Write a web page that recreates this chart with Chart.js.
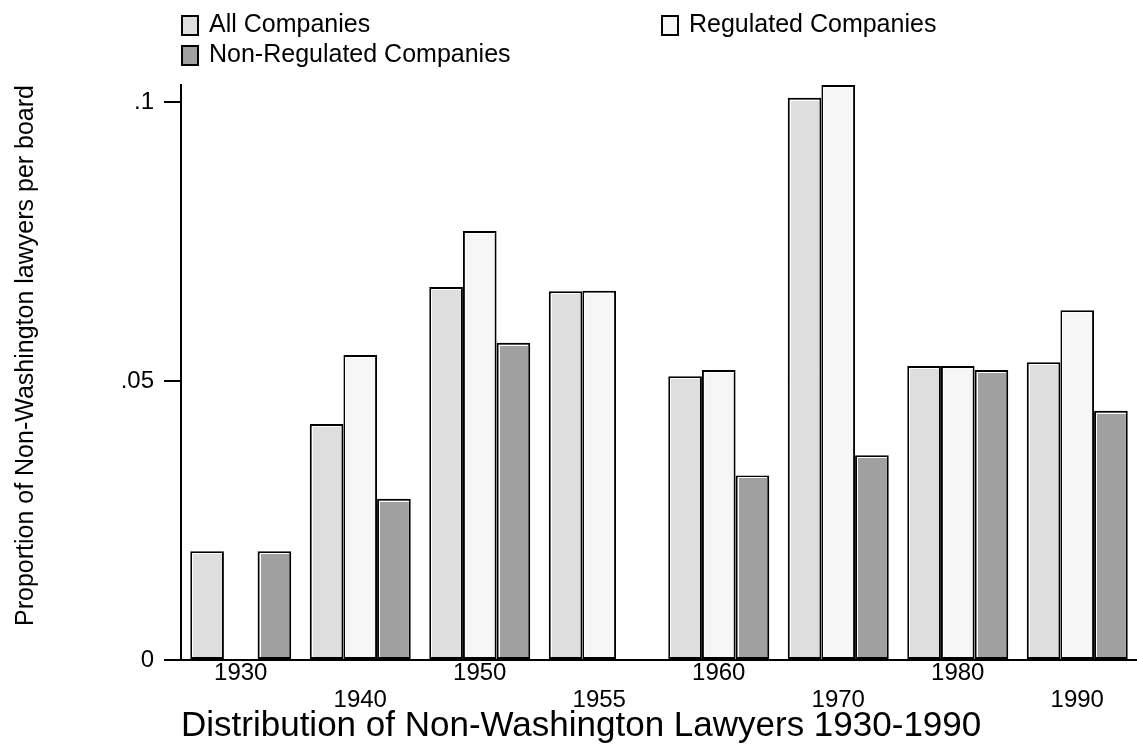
<!DOCTYPE html>
<html>
<head>
<meta charset="utf-8">
<script src="https://cdn.jsdelivr.net/npm/chart.js@4.4.1/dist/chart.umd.min.js"></script>
<style>
  html, body { margin: 0; padding: 0; background: #fff; }
  #wrap { position: relative; width: 1137px; height: 754px; }
</style>
</head>
<body>
<div id="wrap"><canvas id="chart"></canvas></div>
<script>
const years = ['1930', '1940', '1950', '1955', '1960', '1970', '1980', '1990'];
const allCompanies = [0.0195, 0.0423, 0.0669, 0.0661, 0.0509, 0.1008, 0.0527, 0.0534];
const regulated = [null, 0.0547, 0.0769, 0.0662, 0.0520, 0.1031, 0.0527, 0.0627];
const nonRegulated = [0.0195, 0.0289, 0.0569, null, 0.0331, 0.0367, 0.0520, 0.0447];
const yTicks = [0, 0.05, 0.1];

const FONT = "'Liberation Sans', Arial, sans-serif";

// stata style legend: two columns, drawn from the datasets
const legendSlots = [
  { x: 181, y: 25 },
  { x: 661, y: 25 },
  { x: 181, y: 55 }
];

const stataLegend = {
  id: 'stataLegend',
  afterDraw(chart) {
    const ctx = chart.ctx;
    ctx.save();
    ctx.font = '25px ' + FONT;
    ctx.textBaseline = 'middle';
    ctx.textAlign = 'left';
    chart.data.datasets.forEach((ds, i) => {
      const s = legendSlots[i];
      ctx.fillStyle = ds.backgroundColor;
      ctx.fillRect(s.x, s.y - 10, 18, 21);
      ctx.strokeStyle = '#000';
      ctx.lineWidth = 2;
      ctx.strokeRect(s.x + 1, s.y - 9, 16, 19);
      ctx.fillStyle = '#000';
      ctx.fillText(ds.label, s.x + 28, s.y);
    });
    ctx.restore();
  }
};

// thin white highlight inside the top/left edge of each bar
const barHighlight = {
  id: 'barHighlight',
  afterDatasetsDraw(chart) {
    const ctx = chart.ctx;
    ctx.save();
    ctx.strokeStyle = '#fff';
    ctx.lineWidth = 1;
    chart.data.datasets.forEach((ds, i) => {
      chart.getDatasetMeta(i).data.forEach((bar, j) => {
        if (ds.data[j] == null) return;
        const { x, y, base, width } = bar.getProps(['x', 'y', 'base', 'width'], true);
        const l = Math.round(x - width / 2) + 2.5;
        const r = Math.round(x + width / 2) - 2;
        const t = Math.round(y) + 2.5;
        ctx.beginPath();
        ctx.moveTo(l, base - 2);
        ctx.lineTo(l, t);
        ctx.lineTo(r, t);
        ctx.stroke();
      });
    });
    ctx.restore();
  }
};

const ctx = document.getElementById('chart').getContext('2d');
new Chart(ctx, {
  type: 'bar',
  data: {
    labels: years,
    datasets: [
      { label: 'All Companies', data: allCompanies, backgroundColor: '#dedede' },
      { label: 'Regulated Companies', data: regulated, backgroundColor: '#f6f6f6' },
      { label: 'Non-Regulated Companies', data: nonRegulated, backgroundColor: '#a0a0a0' }
    ]
  },
  options: {
    responsive: true,
    maintainAspectRatio: false,
    animation: false,
    layout: { padding: { top: 85, left: 0, right: 0, bottom: 0 } },
    datasets: {
      bar: {
        borderColor: '#000',
        borderWidth: 2,
        borderSkipped: false,
        barPercentage: 1,
        categoryPercentage: 0.845
      }
    },
    plugins: {
      legend: { display: false },
      tooltip: { enabled: false }
    },
    scales: {
      x: {
        grid: { display: false, drawTicks: false },
        border: { display: true, color: '#000', width: 2 },
        ticks: {
          autoSkip: false,
          maxRotation: 0,
          padding: 0,
          color: '#000',
          font: { family: FONT, size: 24, lineHeight: 1.11 },
          callback: function (value, index) {
            const lbl = this.getLabelForValue(value);
            return index % 2 === 0 ? [lbl] : ['', lbl];
          }
        },
        title: {
          display: true,
          text: 'Distribution of Non-Washington Lawyers 1930-1990',
          align: 'start',
          color: '#000',
          font: { family: FONT, size: 35, lineHeight: 1.0 },
          padding: { top: 0, bottom: 10 }
        },
        afterFit(scale) { scale.height = 94; }
      },
      y: {
        min: 0,
        max: Math.max(...allCompanies, ...regulated, ...nonRegulated),
        afterBuildTicks(scale) { scale.ticks = yTicks.map(v => ({ value: v })); },
        afterFit(scale) { scale.width = 181; },
        grid: { drawOnChartArea: false, drawTicks: true, tickLength: 17, color: '#000', lineWidth: 2 },
        border: { display: true, color: '#000', width: 2 },
        ticks: {
          padding: 10,
          color: '#000',
          font: { family: FONT, size: 24 },
          callback: v => v === 0 ? '0' : String(v).replace(/^0/, '')
        },
        title: {
          display: true,
          text: 'Proportion of Non-Washington lawyers per board',
          align: 'end',
          color: '#000',
          font: { family: FONT, size: 25, lineHeight: 1.2 },
          padding: { top: 11, bottom: 0 }
        }
      }
    }
  },
  plugins: [barHighlight, stataLegend]
});
</script>
</body>
</html>
